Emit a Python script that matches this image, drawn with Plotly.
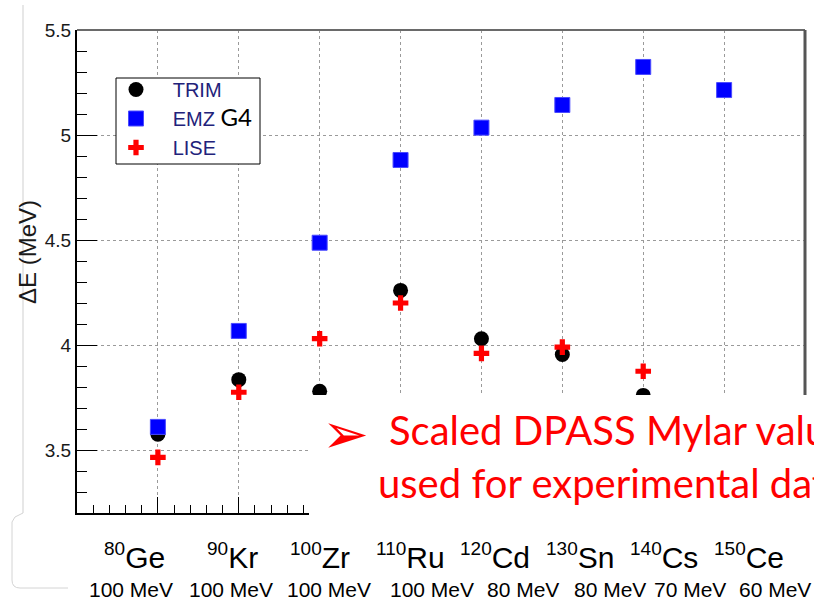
import plotly.graph_objects as go

# ---------------- data ----------------
mass = [80, 90, 100, 110, 120, 130, 140, 150]
isotope_mass = ["80", "90", "100", "110", "120", "130", "140", "150"]
isotope_sym = ["Ge", "Kr", "Zr", "Ru", "Cd", "Sn", "Cs", "Ce"]
energies = ["100 MeV", "100 MeV", "100 MeV", "100 MeV", "80 MeV", "80 MeV", "70 MeV", "60 MeV"]

trim = [3.575, 3.835, 3.78, 4.26, 4.03, 3.955, 3.76, None]
emz = [3.61, 4.067, 4.487, 4.881, 5.035, 5.143, 5.324, 5.214]
lise = [3.465, 3.775, 4.03, 4.2, 3.96, 3.99, 3.875, None]

y_ticks = [3.5, 4, 4.5, 5, 5.5]
y_ticktext = ["3.5", "4", "4.5", "5", "5.5"]

# ---------------- layout helpers (pixel -> paper) ----------------
WIDTH, HEIGHT = 814, 600
L, R, T, B = 77, 805, 30, 513
PW, PH = R - L, B - T


def px(x):
    return (x - L) / PW


def py(y):
    return (B - y) / PH


label_sym_x = [134, 232, 320, 410, 495, 580, 664, 749]
label_en_x = [131, 231, 329, 432, 523, 610, 690, 775]

AX_FONT = "Liberation Sans, Arial, sans-serif"

fig = go.Figure()

fig.add_trace(go.Scatter(
    x=mass, y=trim, mode="markers", name="\u00a0\u00a0\u00a0TRIM",
    legendgroup="a",
    marker=dict(symbol="circle", size=15, color="black"),
))
fig.add_trace(go.Scatter(
    x=mass, y=emz, mode="markers",
    name="\u00a0\u00a0\u00a0EMZ <span style='color:black;font-family:Lato;font-size:24px'>G4</span>",
    legendgroup="b",
    marker=dict(symbol="square", size=15, color="#0000ff",
                line=dict(color="#4a4aff", width=1)),
))
fig.add_trace(go.Scatter(
    x=mass, y=lise, mode="markers", name="\u00a0\u00a0\u00a0LISE",
    legendgroup="c",
    marker=dict(symbol="cross", size=13, color="#ff0000", line=dict(width=0)),
))

shapes = []
# top and right frame
shapes.append(dict(type="line", xref="paper", yref="paper", x0=0, x1=1, y0=1, y1=1,
                   line=dict(color="#6a6a6a", width=2), layer="above"))
shapes.append(dict(type="line", xref="paper", yref="paper", x0=1, x1=1, y0=0, y1=1,
                   line=dict(color="#555555", width=3), layer="above"))
# legend frame
shapes.append(dict(type="rect", xref="paper", yref="paper",
                   x0=px(116), x1=px(260), y0=py(164), y1=py(78),
                   fillcolor="white", line=dict(color="black", width=1), layer="above"))
# white overlay box (slide text box)
shapes.append(dict(type="rect", xref="paper", yref="paper",
                   x0=px(309), x1=px(830), y0=py(395), y1=py(532),
                   fillcolor="white", line=dict(width=0), layer="above"))
# slide decoration lines
shapes.append(dict(type="line", xref="paper", yref="paper",
                   x0=px(23), x1=px(23), y0=py(5), y1=py(513),
                   line=dict(color="#cfcfcf", width=1), layer="above"))
path = "M {a},{b} L {c},{d} L {e},{f} L {g},{h} Q {i},{j} {k},{l} L {m},{n}".format(
    a=px(23), b=py(513), c=px(15), d=py(517), e=px(12), f=py(522),
    g=px(12), h=py(580), i=px(12), j=py(588), k=px(20), l=py(588), m=px(68), n=py(588))
shapes.append(dict(type="path", xref="paper", yref="paper", path=path,
                   line=dict(color="#d4d4d4", width=1), layer="above"))

annotations = []
# y title
annotations.append(dict(xref="paper", yref="paper", x=px(27), y=py(252),
                        text="\u0394E (MeV)", textangle=-90, showarrow=False,
                        font=dict(family=AX_FONT, size=24, color="#1a1a1a"),
                        xanchor="center", yanchor="middle"))
# category labels
for xs, m, s in zip(label_sym_x, isotope_mass, isotope_sym):
    annotations.append(dict(xref="paper", yref="paper", x=px(xs), y=py(556),
                            text="<sup><span style='font-size:19px'>" + m + "</span></sup>" + s,
                            showarrow=False, xanchor="center", yanchor="middle",
                            font=dict(family=AX_FONT, size=30, color="black")))
for xs, e in zip(label_en_x, energies):
    annotations.append(dict(xref="paper", yref="paper", x=px(xs), y=py(589),
                            text=e, showarrow=False, xanchor="center", yanchor="middle",
                            font=dict(family=AX_FONT, size=21, color="black")))
# red note
annotations.append(dict(xref="paper", yref="paper", x=px(345), y=py(433),
                        text="\u27a2", showarrow=False, xanchor="center", yanchor="middle",
                        font=dict(family="DejaVu Sans", size=56, color="#ff0000")))
annotations.append(dict(xref="paper", yref="paper", x=px(387), y=py(430),
                        text="Scaled DPASS Mylar values", showarrow=False,
                        xanchor="left", yanchor="middle",
                        font=dict(family="Lato", size=40, color="#ff0000")))
annotations.append(dict(xref="paper", yref="paper", x=px(376), y=py(483),
                        text="used for experimental data", showarrow=False,
                        xanchor="left", yanchor="middle",
                        font=dict(family="Lato", size=40, color="#ff0000")))

fig.update_layout(
    width=WIDTH, height=HEIGHT,
    margin=dict(l=L, r=WIDTH - R, t=T, b=HEIGHT - B),
    paper_bgcolor="white", plot_bgcolor="white",
    showlegend=True,
    legend=dict(x=px(116), y=py(70), xanchor="left", yanchor="top",
                bgcolor="rgba(0,0,0,0)", borderwidth=0,
                font=dict(family=AX_FONT, size=20, color="#22227a"),
                traceorder="grouped", tracegroupgap=0, itemwidth=30),
    shapes=shapes, annotations=annotations,
)

fig.update_xaxes(
    range=[70, 160], showticklabels=False,
    tickmode="linear", tick0=70, dtick=10,
    ticks="inside", ticklen=16, tickwidth=1, tickcolor="black",
    showline=True, linecolor="black", linewidth=2,
    showgrid=True, gridcolor="#9a9a9a", griddash="dot", gridwidth=1,
    zeroline=False,
    minor=dict(dtick=2, tick0=70, ticks="inside", ticklen=8, tickcolor="black", showgrid=False),
)
fig.update_yaxes(
    range=[3.2, 5.5], tickvals=y_ticks, ticktext=y_ticktext,
    ticks="inside", ticklen=20, tickwidth=1, tickcolor="black",
    showline=True, linecolor="black", linewidth=2,
    showgrid=True, gridcolor="#9a9a9a", griddash="dot", gridwidth=1,
    zeroline=False,
    tickfont=dict(family=AX_FONT, size=19, color="#1a1a1a"),
    minor=dict(dtick=0.1, tick0=3.2, ticks="inside", ticklen=10, tickcolor="black", showgrid=False),
)

fig.write_html("out.html")
